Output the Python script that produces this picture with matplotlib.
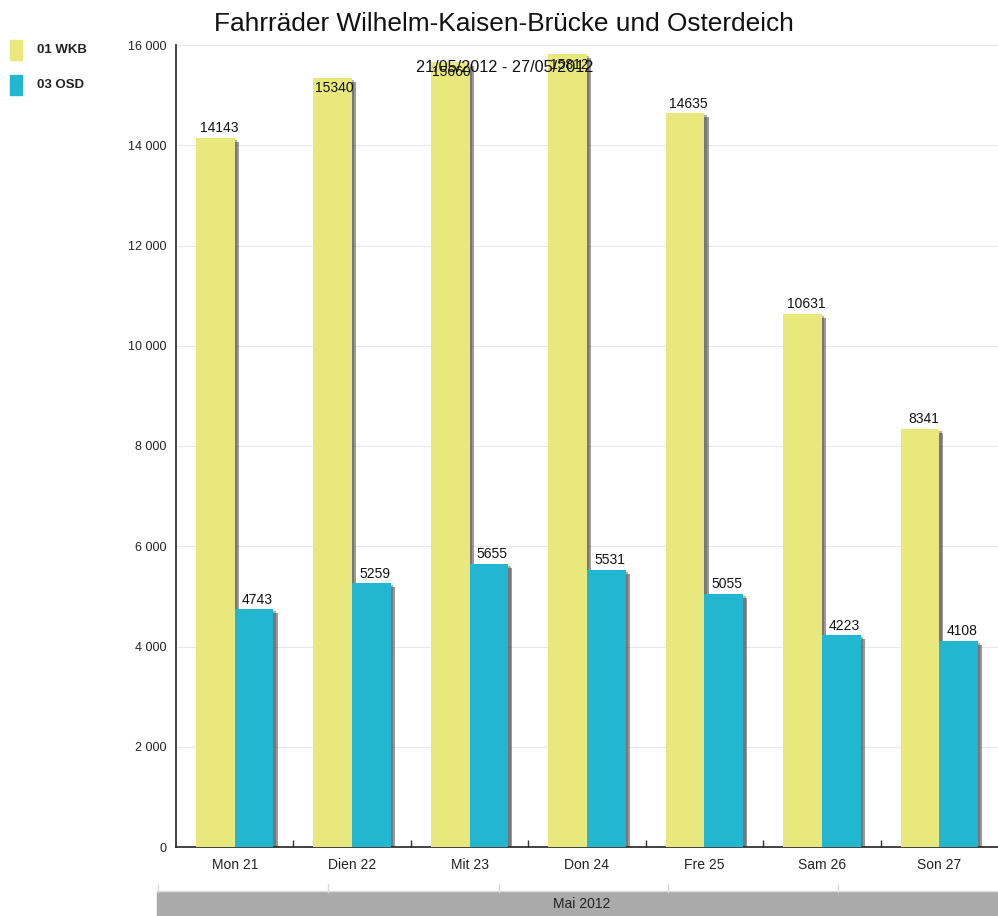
import matplotlib
matplotlib.use("Agg")
import matplotlib.pyplot as plt
from matplotlib.patches import Rectangle
from matplotlib.ticker import FuncFormatter, FixedLocator
import numpy as np

plt.rcParams['font.family'] = ['Liberation Sans', 'DejaVu Sans']

title = "Fahrräder Wilhelm-Kaisen-Brücke und Osterdeich"
subtitle = "21/05/2012 - 27/05/2012"
categories = ["Mon 21", "Dien 22", "Mit 23", "Don 24", "Fre 25", "Sam 26", "Son 27"]
series_names = ["01 WKB", "03 OSD"]
wkb = [14143, 15340, 15660, 15812, 14635, 10631, 8341]
osd = [4743, 5259, 5655, 5531, 5055, 4223, 4108]
period_label = "Mai 2012"
colors = ["#E8E87D", "#23B6D0"]

W, H = 998, 916
fig = plt.figure(figsize=(W / 100, H / 100), dpi=100)
ax = fig.add_axes([176 / W, 1 - 847 / H, (998 - 176) / W, (847 - 45) / H])

x = np.arange(len(categories))
bw = 0.33
ymax = 16000

for vals, off, col in [(wkb, -bw / 2, colors[0]), (osd, bw / 2, colors[1])]:
    # shadows
    ax.bar(x + off + 0.035, np.array(vals) - 80, width=bw, color="#555555", alpha=0.6,
           zorder=2, linewidth=0)
    ax.bar(x + off + 0.02, np.array(vals) - 40, width=bw, color="#444444", alpha=0.4,
           zorder=2, linewidth=0)
    ax.bar(x + off, vals, width=bw, color=col, zorder=3, linewidth=0)
    for xi, v in zip(x, vals):
        if v > 0.94 * ymax:
            ax.annotate(str(v), (xi + off, v), xytext=(1, -7.5), textcoords="offset points",
                        ha="center", va="center", fontsize=10, color="#111111", zorder=5)
        else:
            ax.annotate(str(v), (xi + off, v), xytext=(2.5, 7), textcoords="offset points",
                        ha="center", va="center", fontsize=10, color="#111111", zorder=5)

ax.set_xlim(-0.5, len(categories) - 0.5)
ax.set_ylim(0, ymax)
ax.yaxis.set_major_locator(FixedLocator(np.arange(0, ymax + 1, 2000)))
ax.yaxis.set_major_formatter(FuncFormatter(lambda v, p: f"{int(v):,}".replace(",", " ")))
ax.grid(axis="y", color="#e8e8e8", linewidth=0.8, zorder=0)
ax.set_axisbelow(True)
ax.tick_params(axis="y", length=0, labelsize=9, pad=7, labelcolor="#222222")

ax.set_xticks(x)
ax.set_xticklabels(categories, fontsize=10, color="#222222")
ax.set_xticks(x[:-1] + 0.5, minor=True)
ax.tick_params(axis="x", which="major", length=0, pad=8)
ax.tick_params(axis="x", which="minor", length=5, direction="in", width=1, color="#333333")

for s in ["top", "right"]:
    ax.spines[s].set_visible(False)
for s in ["left", "bottom"]:
    ax.spines[s].set_color("#222222")
    ax.spines[s].set_linewidth(1.2)

# title and subtitle
fig.text(504 / W, 1 - 24 / H, title, ha="center", va="center", fontsize=18.9, color="#111111")
fig.text(505 / W, 1 - 67 / H, subtitle, ha="center", va="center", fontsize=11.7,
         color="#111111", zorder=10)

# legend
for i, (name, col) in enumerate(zip(series_names, colors)):
    yc = 50 + i * 35
    fig.patches.append(Rectangle((10 / W, 1 - (yc + 10) / H), 12 / W, 20 / H,
                                 transform=fig.transFigure, color=col, figure=fig))
    fig.text(37 / W, 1 - yc / H, name, ha="left", va="center", fontsize=9.5,
             fontweight="bold", color="#222222")

# period band
fig.patches.append(Rectangle((157 / W, 0), (W - 157) / W, 24 / H, transform=fig.transFigure,
                             color="#aaaaaa", figure=fig))
fig.add_artist(plt.Line2D([157 / W, 1], [25 / H, 25 / H], transform=fig.transFigure,
                          color="#dddddd", linewidth=1))
for xp in [158, 328, 499, 668, 838]:
    fig.add_artist(plt.Line2D([xp / W, xp / W], [24 / H, 32 / H], transform=fig.transFigure,
                              color="#dddddd", linewidth=1))
fig.text(582 / W, 12 / H, period_label, ha="center", va="center", fontsize=10, color="#222222")

fig.savefig("out.png", dpi=100)
